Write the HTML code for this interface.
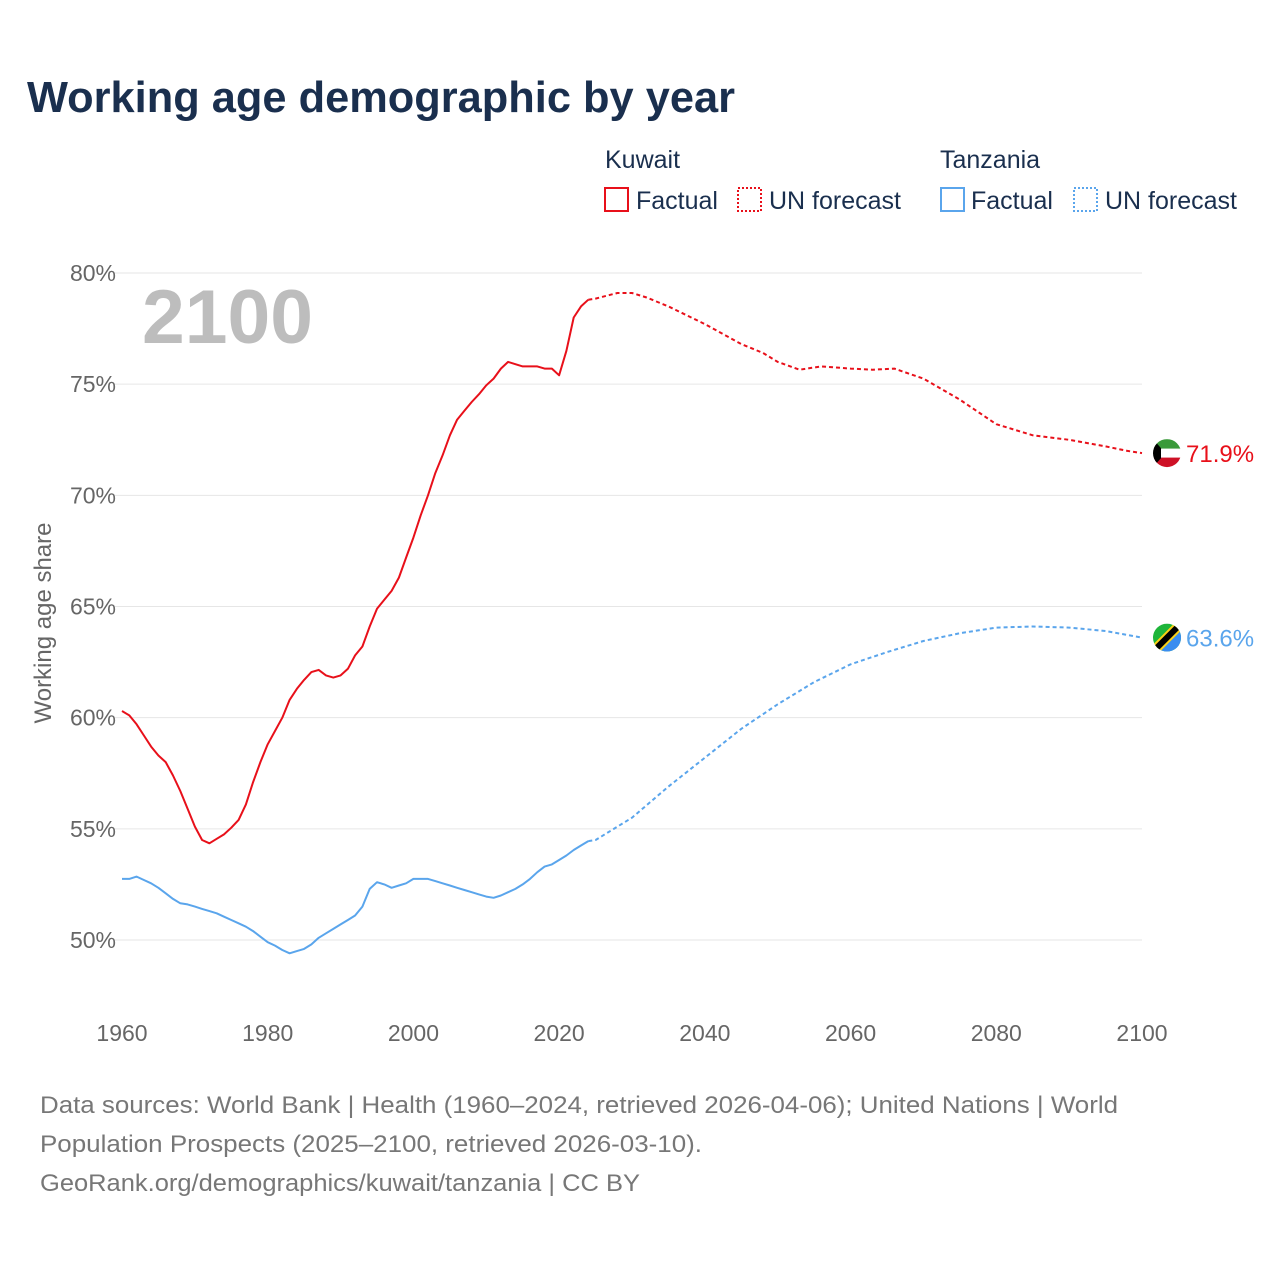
<!DOCTYPE html>
<html><head><meta charset="utf-8"><style>
body{margin:0;background:#fff;font-family:"Liberation Sans",sans-serif;}
svg text{font-family:"Liberation Sans",sans-serif;}
</style></head><body>
<svg id="chart" width="1280" height="1280" viewBox="0 0 1280 1280" xmlns="http://www.w3.org/2000/svg">
<rect width="1280" height="1280" fill="#fff"/>
<text x="27" y="112" font-size="44" font-weight="bold" fill="#1a2f4e" textLength="708" lengthAdjust="spacingAndGlyphs">Working age demographic by year</text>
<g font-size="25" fill="#1a2f4e">
<text x="605" y="168">Kuwait</text>
<text x="940" y="168">Tanzania</text>
<g><rect x="605" y="188" width="23" height="23" fill="none" stroke="#e8101a" stroke-width="2"/><text x="636" y="209">Factual</text></g>
<g><rect x="738" y="188" width="23" height="23" fill="none" stroke="#e8101a" stroke-width="2" stroke-dasharray="2,2"/><text x="769" y="209">UN forecast</text></g>
<g><rect x="941" y="188" width="23" height="23" fill="none" stroke="#5aa5ec" stroke-width="2"/><text x="971" y="209">Factual</text></g>
<g><rect x="1074" y="188" width="23" height="23" fill="none" stroke="#5aa5ec" stroke-width="2" stroke-dasharray="2,2"/><text x="1105" y="209">UN forecast</text></g>
</g>
<text transform="translate(51,623) rotate(-90)" text-anchor="middle" font-size="24" fill="#666">Working age share</text>
<g id="grid"></g>
<text x="142" y="343" font-size="76" font-weight="bold" fill="#bdbdbd" textLength="171" lengthAdjust="spacingAndGlyphs">2100</text>
<g id="series"></g>
<g font-size="24" fill="#777">
<text x="40" y="1113" textLength="1078" lengthAdjust="spacingAndGlyphs">Data sources: World Bank | Health (1960–2024, retrieved 2026-04-06); United Nations | World</text>
<text x="40" y="1152" textLength="662" lengthAdjust="spacingAndGlyphs">Population Prospects (2025–2100, retrieved 2026-03-10).</text>
<text x="40" y="1191" textLength="600" lengthAdjust="spacingAndGlyphs">GeoRank.org/demographics/kuwait/tanzania | CC BY</text>
</g>
</svg>
<script>
const yTicks=[50,55,60,65,70,75,80];
const xTicks=[1960,1980,2000,2020,2040,2060,2080,2100];
const kwFactYears=[];for(let y=1960;y<=2024;y++)kwFactYears.push(y);
const kwFact=[60.3,60.1,59.7,59.2,58.7,58.3,58.0,57.4,56.7,55.9,55.1,54.5,54.35,54.55,54.75,55.05,55.4,56.1,57.1,58.0,58.8,59.4,60.0,60.8,61.3,61.7,62.05,62.15,61.9,61.8,61.9,62.2,62.8,63.2,64.1,64.9,65.3,65.7,66.3,67.2,68.1,69.1,70.0,71.0,71.8,72.7,73.4,73.8,74.2,74.55,74.95,75.25,75.7,76.0,75.9,75.8,75.8,75.8,75.7,75.7,75.4,76.5,78.0,78.5,78.8];
const tzFact=[52.75,52.75,52.85,52.7,52.55,52.35,52.1,51.85,51.65,51.6,51.5,51.4,51.3,51.2,51.05,50.9,50.75,50.6,50.4,50.15,49.9,49.75,49.55,49.4,49.5,49.6,49.8,50.1,50.3,50.5,50.7,50.9,51.1,51.5,52.3,52.6,52.5,52.35,52.45,52.55,52.75,52.75,52.75,52.65,52.55,52.45,52.35,52.25,52.15,52.05,51.95,51.9,52.0,52.15,52.3,52.5,52.75,53.05,53.3,53.4,53.6,53.8,54.05,54.25,54.45];
const fcYears=[2024,2025,2028,2030,2032,2035,2040,2045,2048,2050,2053,2056,2060,2063,2066,2070,2075,2080,2085,2090,2095,2098,2100];
const kwFc=[78.8,78.85,79.1,79.1,78.9,78.5,77.7,76.8,76.4,76.0,75.65,75.8,75.7,75.65,75.7,75.25,74.3,73.2,72.7,72.5,72.2,72.0,71.9];
const tzFcYears=[2024,2025,2030,2035,2040,2045,2050,2055,2060,2065,2070,2075,2080,2085,2090,2095,2100];
const tzFc=[54.45,54.5,55.5,56.9,58.2,59.5,60.6,61.6,62.4,62.95,63.45,63.8,64.05,64.1,64.05,63.9,63.6];
const NS='http://www.w3.org/2000/svg';
const X=v=>122+(v-1960)*(1020/140);
const Y=v=>940-(v-50)*(667/30);
function mk(tag,attrs,parent){const e=document.createElementNS(NS,tag);for(const k in attrs)e.setAttribute(k,attrs[k]);parent.appendChild(e);return e;}
const grid=document.getElementById('grid');
yTicks.forEach(t=>{
 const l=mk('line',{x1:115,x2:1142,y1:Y(t),y2:Y(t),stroke:'#e6e6e6','stroke-width':1},grid);
 
 
 const tx=mk('text',{x:116,y:Y(t)+8,'text-anchor':'end','font-size':23,fill:'#666'},grid);
 tx.textContent=t+'%';
 
 
});
xTicks.forEach(t=>{
 const tx=mk('text',{x:X(t),y:1041,'text-anchor':'middle','font-size':23,fill:'#666'},grid);
 tx.textContent=t;
 
 
});
const s=document.getElementById('series');
function line(xs,ys,col,dash,name){
 const d=xs.map((x,i)=>(i?'L':'M')+X(x).toFixed(1)+','+Y(ys[i]).toFixed(1)).join('');
 const p=mk('path',{d:d,fill:'none',stroke:col,'stroke-width':2,'stroke-linejoin':'round'},s);
 if(dash)p.setAttribute('stroke-dasharray','4,3');
 
 
}
line(kwFactYears,kwFact,'#e8101a',false,'kuwait-factual-line');
line(fcYears,kwFc,'#e8101a',true,'kuwait-forecast-line');
line(kwFactYears,tzFact,'#5aa5ec',false,'tanzania-factual-line');
line(tzFcYears,tzFc,'#5aa5ec',true,'tanzania-forecast-line');
const kwLast=kwFc[kwFc.length-1], tzLast=tzFc[tzFc.length-1];
const cx=1167;
let g=mk('g',{},s);


let ky=Y(kwLast);
mk('clipPath',{id:'ck'},g);
mk('circle',{cx:cx,cy:ky,r:14},g.lastChild);
let gg=mk('g',{'clip-path':'url(#ck)'},g);
mk('rect',{x:cx-14,y:ky-14,width:28,height:10,fill:'#3a9a3a'},gg);
mk('rect',{x:cx-14,y:ky-4.5,width:28,height:9,fill:'#fff'},gg);
mk('rect',{x:cx-14,y:ky+4.5,width:28,height:10,fill:'#ce1126'},gg);
mk('polygon',{points:`${cx-14},${ky-14} ${cx-6},${ky-5} ${cx-6},${ky+5} ${cx-14},${ky+14}`,fill:'#000'},gg);
let t1=mk('text',{x:1186,y:ky+9,'font-size':24,fill:'#e8101a'},s);
t1.textContent=kwLast.toFixed(1)+'%';


g=mk('g',{},s);


let ty=Y(tzLast);
mk('clipPath',{id:'ct'},g);
mk('circle',{cx:cx,cy:ty,r:14},g.lastChild);
gg=mk('g',{'clip-path':'url(#ct)'},g);
mk('rect',{x:cx-14,y:ty-14,width:28,height:28,fill:'#1eb53a'},gg);
mk('polygon',{points:`${cx+14},${ty-14} ${cx+14},${ty+14} ${cx-14},${ty+14}`,fill:'#3a8df0'},gg);
mk('line',{x1:cx-14,y1:ty+14,x2:cx+14,y2:ty-14,stroke:'#fcd116','stroke-width':10},gg);
mk('line',{x1:cx-14,y1:ty+14,x2:cx+14,y2:ty-14,stroke:'#000','stroke-width':6},gg);
let t2=mk('text',{x:1186,y:ty+9,'font-size':24,fill:'#5aa5ec'},s);
t2.textContent=tzLast.toFixed(1)+'%';


</script>
</body></html>
